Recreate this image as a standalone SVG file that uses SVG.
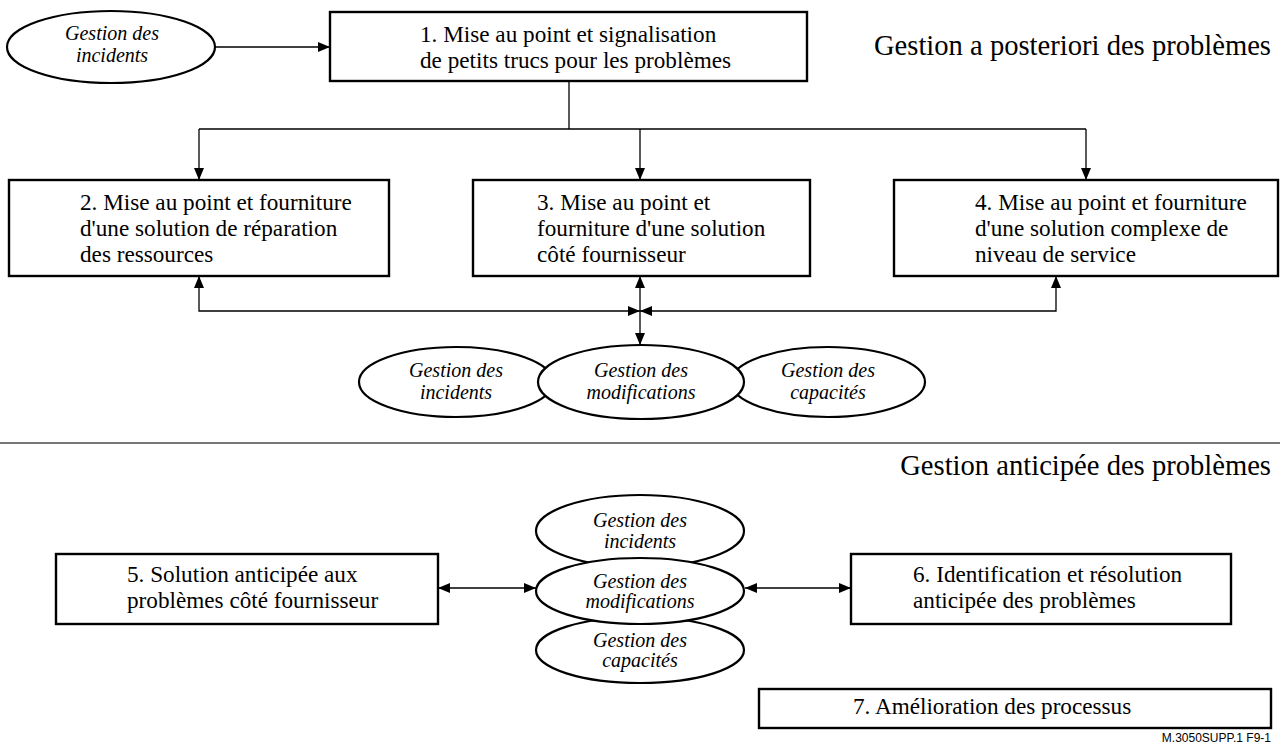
<svg xmlns="http://www.w3.org/2000/svg" width="1280" height="749" viewBox="0 0 1280 749">
<style>
.box{fill:#fff;stroke:#000;stroke-width:2.4}
.ell{fill:#fff;stroke:#000;stroke-width:2.2}
.t{font-family:"Liberation Serif","Times New Roman",serif;font-size:23.2px;fill:#000}
.i{font-family:"Liberation Serif","Times New Roman",serif;font-size:20px;font-style:italic;fill:#000;text-anchor:middle}
.h{font-family:"Liberation Serif","Times New Roman",serif;font-size:28.6px;fill:#000;text-anchor:end}
.c{fill:none;stroke:#000;stroke-width:1.3}
.f{font-family:"Liberation Sans",Arial,sans-serif;font-size:12px;fill:#000;text-anchor:end}
</style>
<defs>
<marker id="ah" viewBox="0 0 12 10" refX="12" refY="5" markerWidth="12" markerHeight="10" markerUnits="userSpaceOnUse" orient="auto-start-reverse">
<path d="M0,0 L12,5 L0,10 Z" fill="#000"/>
</marker>
</defs>
<rect width="1280" height="749" fill="#fff"/>

<g id="connectors">
<path class="c" d="M216,47 H330" marker-end="url(#ah)"/>
<path class="c" d="M569,81 V129"/>
<path class="c" d="M199,129 H1086"/>
<path class="c" d="M199,129 V180" marker-end="url(#ah)"/>
<path class="c" d="M640,129 V180" marker-end="url(#ah)"/>
<path class="c" d="M1086,129 V180" marker-end="url(#ah)"/>
<path class="c" d="M199,276 V311 H640" marker-start="url(#ah)" marker-end="url(#ah)"/>
<path class="c" d="M1056,276 V311 H640" marker-start="url(#ah)" marker-end="url(#ah)"/>
<path class="c" d="M640,276 V345" marker-start="url(#ah)" marker-end="url(#ah)"/>
<path class="c" d="M438,588 H536" marker-start="url(#ah)" marker-end="url(#ah)"/>
<path class="c" d="M745,588 H851" marker-start="url(#ah)" marker-end="url(#ah)"/>
</g>

<g id="sep">
<line x1="0" y1="443" x2="1280" y2="443" stroke="#777" stroke-width="2"/>
</g>

<g id="title-top"><text class="h" x="1271" y="55">Gestion a posteriori des problèmes</text></g>
<g id="title-bottom"><text class="h" x="1271" y="475">Gestion anticipée des problèmes</text></g>

<g id="e0">
<ellipse class="ell" cx="111" cy="47" rx="104" ry="36"/>
<text class="i" x="112" y="40">Gestion des</text>
<text class="i" x="112" y="62">incidents</text>
</g>

<g id="n1">
<rect class="box" x="330" y="12" width="477" height="69"/>
<text class="t" x="420" y="42">1. Mise au point et signalisation</text>
<text class="t" x="420" y="68">de petits trucs pour les problèmes</text>
</g>

<g id="n2">
<rect class="box" x="9" y="180" width="380" height="96"/>
<text class="t" x="80" y="210">2. Mise au point et fourniture</text>
<text class="t" x="80" y="236">d'une solution de réparation</text>
<text class="t" x="80" y="262">des ressources</text>
</g>

<g id="n3">
<rect class="box" x="473" y="180" width="337" height="96"/>
<text class="t" x="537" y="210">3. Mise au point et</text>
<text class="t" x="537" y="236">fourniture d'une solution</text>
<text class="t" x="537" y="262">côté fournisseur</text>
</g>

<g id="n4">
<rect class="box" x="894" y="180" width="384" height="96"/>
<text class="t" x="975" y="210">4. Mise au point et fourniture</text>
<text class="t" x="975" y="236">d'une solution complexe de</text>
<text class="t" x="975" y="262">niveau de service</text>
</g>

<g id="e-inc-top">
<ellipse class="ell" cx="456" cy="382" rx="97" ry="35"/>
<text class="i" x="456" y="377">Gestion des</text>
<text class="i" x="456" y="399">incidents</text>
</g>
<g id="e-cap-top">
<ellipse class="ell" cx="828" cy="382" rx="97" ry="35"/>
<text class="i" x="828" y="377">Gestion des</text>
<text class="i" x="828" y="399">capacités</text>
</g>
<g id="e-mod-top">
<ellipse class="ell" cx="641" cy="382" rx="103" ry="37"/>
<text class="i" x="641" y="377">Gestion des</text>
<text class="i" x="641" y="399">modifications</text>
</g>

<g id="n5">
<rect class="box" x="56" y="554" width="382" height="70"/>
<text class="t" x="127" y="582">5. Solution anticipée aux</text>
<text class="t" x="127" y="608">problèmes côté fournisseur</text>
</g>

<g id="n6">
<rect class="box" x="851" y="554" width="380" height="70"/>
<text class="t" x="913" y="582">6. Identification et résolution</text>
<text class="t" x="913" y="608">anticipée des problèmes</text>
</g>

<g id="e-inc-bot">
<ellipse class="ell" cx="640" cy="531" rx="104" ry="36"/>
<text class="i" x="640" y="527">Gestion des</text>
<text class="i" x="640" y="548">incidents</text>
</g>
<g id="e-cap-bot">
<ellipse class="ell" cx="640" cy="650" rx="104" ry="33"/>
<text class="i" x="640" y="647">Gestion des</text>
<text class="i" x="640" y="667">capacités</text>
</g>
<g id="e-mod-bot">
<ellipse class="ell" cx="640" cy="591" rx="104" ry="33"/>
<text class="i" x="640" y="588">Gestion des</text>
<text class="i" x="640" y="608">modifications</text>
</g>

<g id="n7">
<rect class="box" x="759" y="689" width="512" height="39"/>
<text class="t" x="853" y="714">7. Amélioration des processus</text>
</g>

<g id="footer"><text class="f" x="1271" y="742">M.3050SUPP.1  F9-1</text></g>
</svg>
